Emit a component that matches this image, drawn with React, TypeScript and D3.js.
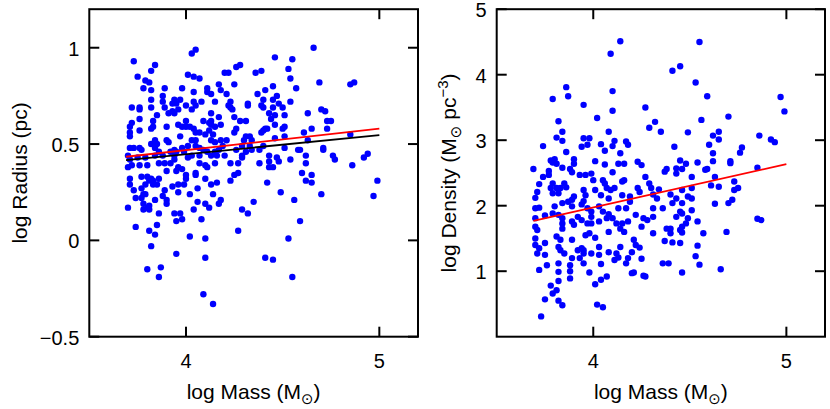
import React from 'react';
import * as d3 from 'd3';

// ---------- data ----------
const massTicks = [4, 5];
const radiusTicks = [-0.5, 0, 0.5, 1];
const densityTicks = [1, 2, 3, 4, 5];
const massDomain = [3.5, 5.2];
const radiusDomain = [-0.5, 1.2];
const densityDomain = [0, 5];

const fitMass = [3.69, 5.0];
const radiusFitRed = [0.434, 0.58];
const radiusFitBlack = [0.417, 0.546];
const densityFitRed = [1.77, 2.635];

// [log Mass, log Radius]
const radiusPoints: [number, number][] = [
  [4.66,1.00],[4.46,0.95],[4.55,0.94],[4.53,0.89],[4.54,0.84],[4.69,0.82],[4.85,0.81],[4.87,0.82],
  [4.57,0.79],[4.45,0.80],[4.41,0.78],[4.47,0.75],[4.45,0.73],[4.48,0.71],[4.54,0.72],[4.45,0.69],
  [4.50,0.69],[4.43,0.66],[4.46,0.65],[4.51,0.65],[4.44,0.63],[4.63,0.66],[4.70,0.68],[4.72,0.67],
  [4.73,0.62],[4.75,0.62],[4.46,0.60],[4.41,0.58],[4.42,0.58],[4.50,0.58],[4.51,0.59],[4.65,0.58],
  [4.73,0.58],[4.61,0.56],[4.51,0.54],[4.46,0.53],[4.63,0.52],[4.85,0.55],[4.51,0.48],[4.58,0.47],
  [4.59,0.47],[4.71,0.48],[4.71,0.47],[4.43,0.44],[4.62,0.44],[4.76,0.44],[4.77,0.42],[4.92,0.43],
  [4.94,0.45],[4.43,0.41],[4.47,0.43],[4.48,0.41],[4.54,0.42],[4.62,0.40],[4.43,0.38],[4.45,0.38],
  [4.86,0.39],[4.60,0.35],[4.65,0.34],[4.62,0.31],[4.65,0.30],[4.99,0.31],[4.42,0.30],[4.49,0.25],
  [4.70,0.24],[4.97,0.23],[4.56,0.21],[4.59,0.10],[4.53,0.01],[4.41,-0.09],[4.45,-0.10],[4.55,-0.19],
  [4.05,0.99],[4.03,0.97],[3.73,0.93],[3.84,0.91],[3.82,0.88],[3.75,0.85],[3.79,0.83],[3.81,0.82],
  [3.78,0.79],[3.89,0.79],[3.82,0.78],[4.01,0.86],[4.04,0.85],[4.07,0.84],[4.20,0.87],[4.22,0.87],
  [4.26,0.90],[4.28,0.91],[4.36,0.87],[4.39,0.88],[3.98,0.79],[4.04,0.77],[4.11,0.79],[4.11,0.77],
  [4.13,0.76],[4.17,0.81],[4.18,0.78],[4.25,0.81],[4.21,0.76],[4.23,0.72],[4.22,0.70],[4.15,0.72],
  [3.88,0.75],[3.82,0.73],[3.94,0.73],[3.97,0.73],[3.93,0.71],[3.95,0.71],[3.88,0.72],[4.00,0.70],
  [4.04,0.72],[4.08,0.72],[4.37,0.76],[4.40,0.73],[3.72,0.69],[3.76,0.69],[3.76,0.68],[3.82,0.69],
  [3.89,0.69],[4.03,0.68],[3.93,0.67],[3.94,0.66],[3.96,0.68],[3.91,0.66],[3.85,0.65],[4.05,0.70],
  [4.13,0.66],[4.23,0.69],[4.24,0.68],[4.32,0.71],[4.32,0.70],[4.39,0.70],[4.40,0.69],[4.25,0.64],
  [4.28,0.62],[4.31,0.62],[4.17,0.64],[3.76,0.63],[3.72,0.61],[3.71,0.59],[3.71,0.56],[3.83,0.62],
  [3.83,0.59],[3.82,0.58],[3.76,0.57],[3.90,0.59],[3.96,0.60],[3.98,0.59],[4.00,0.59],[4.02,0.59],
  [4.04,0.58],[4.00,0.62],[4.09,0.62],[4.12,0.61],[4.13,0.62],[4.13,0.60],[4.15,0.59],[4.18,0.60],
  [4.05,0.56],[4.07,0.56],[4.10,0.55],[4.12,0.57],[4.14,0.55],[3.71,0.54],[3.84,0.52],[3.82,0.50],
  [3.84,0.48],[3.85,0.50],[3.90,0.52],[3.91,0.51],[3.97,0.54],[4.03,0.52],[4.05,0.52],[4.01,0.49],
  [4.13,0.52],[4.15,0.51],[4.18,0.52],[4.21,0.52],[4.25,0.56],[4.26,0.58],[4.30,0.52],[4.31,0.54],
  [4.33,0.54],[4.34,0.52],[4.39,0.56],[4.40,0.57],[3.71,0.48],[3.73,0.48],[3.76,0.48],[3.77,0.47],
  [3.86,0.46],[3.92,0.46],[3.94,0.47],[3.95,0.46],[3.98,0.48],[3.99,0.46],[4.05,0.49],[4.07,0.48],
  [4.09,0.47],[4.11,0.46],[4.15,0.46],[4.17,0.47],[4.19,0.49],[4.26,0.47],[4.29,0.49],[4.31,0.46],
  [4.33,0.49],[4.34,0.47],[4.38,0.47],[4.40,0.49],[3.70,0.44],[3.71,0.42],[3.75,0.43],[3.79,0.43],
  [3.84,0.44],[3.88,0.44],[3.94,0.44],[3.94,0.42],[4.01,0.43],[4.03,0.44],[4.07,0.44],[4.13,0.44],
  [4.16,0.44],[4.20,0.44],[4.29,0.44],[4.29,0.43],[3.70,0.38],[3.72,0.39],[3.76,0.39],[3.80,0.39],
  [3.86,0.40],[3.89,0.40],[3.92,0.40],[3.96,0.38],[3.98,0.37],[4.07,0.40],[4.10,0.39],[4.11,0.38],
  [4.15,0.40],[4.23,0.40],[4.27,0.40],[4.38,0.40],[3.90,0.36],[3.95,0.36],[3.71,0.32],[3.71,0.29],
  [3.77,0.33],[3.80,0.33],[3.82,0.32],[3.83,0.31],[3.86,0.32],[3.81,0.31],[3.79,0.29],[3.83,0.29],
  [3.85,0.29],[3.77,0.27],[3.73,0.26],[3.78,0.24],[3.79,0.24],[3.74,0.22],[3.77,0.22],[3.78,0.19],
  [3.80,0.17],[3.78,0.16],[3.81,0.16],[3.81,0.18],[3.70,0.17],[3.84,0.21],[3.86,0.14],[3.89,0.26],
  [3.88,0.23],[3.90,0.21],[3.90,0.19],[3.93,0.28],[3.96,0.29],[3.99,0.29],[3.96,0.25],[4.00,0.34],
  [4.00,0.32],[4.05,0.35],[4.05,0.34],[4.02,0.24],[4.06,0.27],[4.10,0.32],[4.13,0.29],[4.16,0.30],
  [4.14,0.24],[4.06,0.20],[4.04,0.16],[4.10,0.19],[4.12,0.17],[4.17,0.19],[4.18,0.21],[4.08,0.11],
  [3.94,0.14],[3.97,0.14],[3.95,0.10],[3.98,0.11],[4.23,0.31],[4.25,0.34],[4.27,0.35],[4.35,0.20],
  [4.29,0.16],[4.32,0.14],[4.27,0.05],[3.74,0.07],[3.81,0.05],[3.84,0.03],[3.85,0.08],[3.82,-0.03],
  [4.02,0.02],[4.10,0.01],[3.95,-0.07],[4.10,-0.09],[3.80,-0.15],[3.87,-0.14],[3.86,-0.19],[4.09,-0.28],
  [4.14,-0.33],
];

// [log Mass, log Density]
const densityPoints: [number, number][] = [
  [4.14,4.51],[4.09,4.32],[4.41,4.06],[3.86,3.81],[3.87,3.67],[3.79,3.63],[4.10,3.75],[3.95,3.54],
  [4.10,3.45],[4.27,3.50],[4.02,3.34],[3.82,3.29],[4.32,3.28],[4.29,3.19],[4.35,3.13],[3.84,3.13],
  [3.81,3.04],[3.84,2.99],[4.08,3.13],[3.95,3.03],[3.98,3.03],[4.11,2.99],[4.17,2.98],[4.18,2.93],
  [4.04,2.94],[4.10,2.91],[4.06,2.84],[3.94,2.90],[3.97,2.93],[3.74,2.91],[3.86,2.82],[4.14,2.80],
  [4.42,2.90],[3.78,2.69],[3.80,2.71],[3.79,2.66],[3.81,2.64],[3.90,2.71],[3.90,2.64],[4.01,2.68],
  [4.06,2.63],[4.13,2.64],[4.16,2.64],[4.23,2.67],[4.25,2.62],
  [3.69,2.56],[3.77,2.53],[3.77,2.47],[3.84,2.58],[3.88,2.56],[3.89,2.51],[3.93,2.47],[3.96,2.47],
  [3.99,2.49],[4.00,2.39],[4.05,2.39],[4.06,2.34],[4.10,2.51],[4.16,2.39],[4.15,2.37],[4.27,2.44],
  [4.37,2.52],[4.38,2.56],[4.43,2.57],[4.43,2.49],[3.74,2.44],[3.72,2.33],[3.71,2.21],[3.70,2.12],
  [3.79,2.34],[3.78,2.27],[3.81,2.27],[3.83,2.27],[3.85,2.34],[3.79,2.19],[3.82,2.19],[3.86,2.28],
  [3.95,2.24],[3.96,2.16],[3.90,2.14],[4.01,2.24],[4.07,2.27],[4.09,2.24],[4.11,2.27],[4.04,2.16],
  [4.08,2.11],[4.15,2.16],[4.19,2.14],[4.19,2.06],[4.23,2.27],[4.24,2.21],[4.29,2.34],[4.30,2.27],
  [4.31,2.17],[4.33,2.11],[4.34,2.25],[4.40,2.17],[4.41,2.04],[4.43,2.11],[3.70,1.96],[3.72,1.97],
  [3.75,1.85],[3.70,1.81],[3.70,1.68],[3.71,1.63],[3.80,1.99],[3.79,1.88],[3.84,2.04],[3.87,2.06],
  [3.89,2.09],[3.82,1.86],[3.84,1.81],[3.84,1.73],[3.84,1.65],[3.89,1.99],[3.94,2.02],[3.95,2.07],
  [3.97,1.96],[3.92,1.83],[3.94,1.78],[3.89,1.76],[3.90,1.71],[3.99,1.91],[3.99,1.83],[3.97,1.73],
  [3.99,1.73],[4.03,1.99],[4.05,1.91],[4.03,1.76],[4.08,1.87],[4.10,1.81],[4.12,1.73],[4.14,1.65],
  [4.15,1.73],[4.13,1.96],[4.17,1.96],[4.18,1.76],[4.07,1.81],[4.08,1.60],[4.16,1.60],[4.22,1.86],
  [4.26,1.81],[4.28,1.78],[4.25,1.68],[4.31,1.83],[4.31,1.96],[4.31,1.58],[4.36,1.96],[4.38,1.65],
  [4.40,1.65],[4.40,1.58],[4.37,1.46],[4.41,1.44],[4.43,1.83],[3.70,1.50],[3.70,1.40],[3.72,1.35],
  [3.71,1.27],[3.75,1.43],[3.75,1.25],[3.81,1.53],[3.83,1.48],[3.82,1.37],[3.83,1.32],[3.85,1.27],
  [3.89,1.48],[3.96,1.55],[3.98,1.58],[4.01,1.51],[3.92,1.32],[3.94,1.35],[3.95,1.32],[3.89,1.20],
  [3.93,1.20],[3.95,1.27],[3.99,1.27],[3.95,1.12],[4.03,1.37],[4.03,1.25],[4.08,1.29],[4.12,1.27],
  [4.13,1.21],[4.14,1.37],[4.11,1.17],[4.17,1.12],[4.18,1.20],[4.21,1.48],[4.22,1.40],[4.24,1.36],
  [4.20,1.29],[4.25,1.19],[4.36,1.12],[4.39,1.12],[3.76,1.09],[3.82,1.12],[3.88,1.09],[3.72,1.02],
  [3.82,0.99],[3.88,1.00],[3.98,0.98],[4.04,1.11],[4.20,0.97],[4.21,0.98],[4.26,0.93],[4.27,0.92],
  [4.07,0.92],[3.88,0.89],[4.04,0.87],[4.01,0.80],[3.82,0.85],[3.78,0.78],[3.81,0.71],[3.79,0.66],
  [3.75,0.57],[3.82,0.55],[3.84,0.48],[4.02,0.49],[4.05,0.45],[3.73,0.31],
  [4.55,4.50],[4.45,4.13],[4.53,3.88],[4.59,3.67],[4.97,3.66],[4.99,3.44],[4.56,3.31],[4.70,3.36],
  [4.49,3.12],[4.65,3.13],[4.62,3.07],[4.65,3.01],[4.86,3.07],[4.92,3.01],[4.94,2.97],[4.60,2.93],
  [4.77,2.89],[4.76,2.81],[4.62,2.80],[4.45,2.69],[4.62,2.68],[4.54,2.66],[4.71,2.68],[4.71,2.65],
  [4.48,2.64],[4.46,2.56],[4.58,2.55],[4.59,2.56],[4.85,2.58],[4.51,2.44],[4.63,2.44],[4.73,2.37],
  [4.61,2.31],[4.65,2.29],[4.73,2.24],[4.75,2.27],[4.46,2.24],[4.51,2.27],[4.49,2.14],[4.51,2.11],
  [4.46,2.04],[4.63,2.03],[4.70,2.04],[4.72,2.09],[4.51,1.93],[4.45,1.91],[4.46,1.88],[4.49,1.81],
  [4.48,1.73],[4.46,1.68],[4.45,1.63],[4.46,1.59],[4.54,1.76],[4.57,1.58],[4.85,1.80],[4.87,1.78],
  [4.69,1.60],[4.45,1.43],[4.54,1.39],[4.53,1.23],[4.55,1.10],[4.66,1.03],[4.46,0.98],
];

// ---------- layout ----------
const W = 830;
const H = 409;
const FONT = '"Liberation Sans", Arial, Helvetica, sans-serif';
const TICK = 10;

const fmt = (d: number) => (d < 0 ? '\u2212' + Math.abs(d) : String(d));

type Fit = { y: number[]; color: string };

function Panel(props: {
  x0: number; x1: number; y0: number; y1: number;
  yDomain: number[]; yTicks: number[];
  points: [number, number][];
  fits: Fit[];
  yTitleX: number;
  yTitle: React.ReactNode;
}) {
  const { x0, x1, y0, y1, yDomain, yTicks, points, fits, yTitleX, yTitle } = props;
  const x = d3.scaleLinear().domain(massDomain).range([x0, x1]);
  const y = d3.scaleLinear().domain(yDomain).range([y1, y0]);
  const line = d3.line<number>().x((_, i) => x(fitMass[i])).y((d) => y(d));
  const cx = (x0 + x1) / 2;
  const cy = (y0 + y1) / 2;
  return (
    <g>
      {points.map((p, i) => (
        <circle key={i} cx={x(p[0])} cy={y(p[1])} r={3.2} fill="#0000ff" />
      ))}
      {fits.map((f, i) => (
        <path key={i} d={line(f.y) || ''} stroke={f.color} strokeWidth={1.8} fill="none" />
      ))}
      {massTicks.map((t) => (
        <g key={'xt' + t}>
          <line x1={x(t)} x2={x(t)} y1={y1} y2={y1 - TICK} stroke="#000" strokeWidth={2} />
          <line x1={x(t)} x2={x(t)} y1={y0} y2={y0 + TICK} stroke="#000" strokeWidth={2} />
          <text x={x(t)} y={368} textAnchor="middle" fontSize={20} fontFamily={FONT}>{fmt(t)}</text>
        </g>
      ))}
      {yTicks.map((t) => (
        <g key={'yt' + t}>
          <line x1={x0} x2={x0 + TICK} y1={y(t)} y2={y(t)} stroke="#000" strokeWidth={2} />
          <line x1={x1} x2={x1 - TICK} y1={y(t)} y2={y(t)} stroke="#000" strokeWidth={2} />
          <text x={x0 - 10} y={y(t)} dy="0.4em" textAnchor="end" fontSize={20} fontFamily={FONT}>{fmt(t)}</text>
        </g>
      ))}
      <rect x={x0} y={y0} width={x1 - x0} height={y1 - y0} fill="none" stroke="#000" strokeWidth={2} />
      <text x={cx} y={399} textAnchor="middle" fontSize={21} fontFamily={FONT}>
        log Mass (M
        <tspan fontSize={15} dy={5} fontFamily='"DejaVu Sans", sans-serif'>{'\u2299'}</tspan>
        <tspan dy={-5}>)</tspan>
      </text>
      <text transform={`translate(${yTitleX},${cy}) rotate(-90)`} textAnchor="middle" fontSize={21} fontFamily={FONT}>
        {yTitle}
      </text>
    </g>
  );
}

export default function App() {
  return (
    <svg width={W} height={H} style={{ position: 'absolute', left: 0, top: 0, background: '#fff' }}>
      <rect x={0} y={0} width={W} height={H} fill="#fff" />
      <Panel
        x0={89.3} x1={418} y0={9.2} y1={336.7}
        yDomain={radiusDomain} yTicks={radiusTicks}
        points={radiusPoints}
        fits={[{ y: radiusFitBlack, color: '#000' }, { y: radiusFitRed, color: '#ff0000' }]}
        yTitleX={26.5}
        yTitle={'log Radius (pc)'}
      />
      <Panel
        x0={496.7} x1={825} y0={9.2} y1={336.7}
        yDomain={densityDomain} yTicks={densityTicks}
        points={densityPoints}
        fits={[{ y: densityFitRed, color: '#ff0000' }]}
        yTitleX={456}
        yTitle={
          <>
            log Density (M
            <tspan fontSize={15} dy={5} fontFamily='"DejaVu Sans", sans-serif'>{'\u2299'}</tspan>
            <tspan dy={-5}> pc</tspan>
            <tspan fontSize={15} dy={-8}>{'\u22123'}</tspan>
            <tspan dy={8}>)</tspan>
          </>
        }
      />
    </svg>
  );
}
